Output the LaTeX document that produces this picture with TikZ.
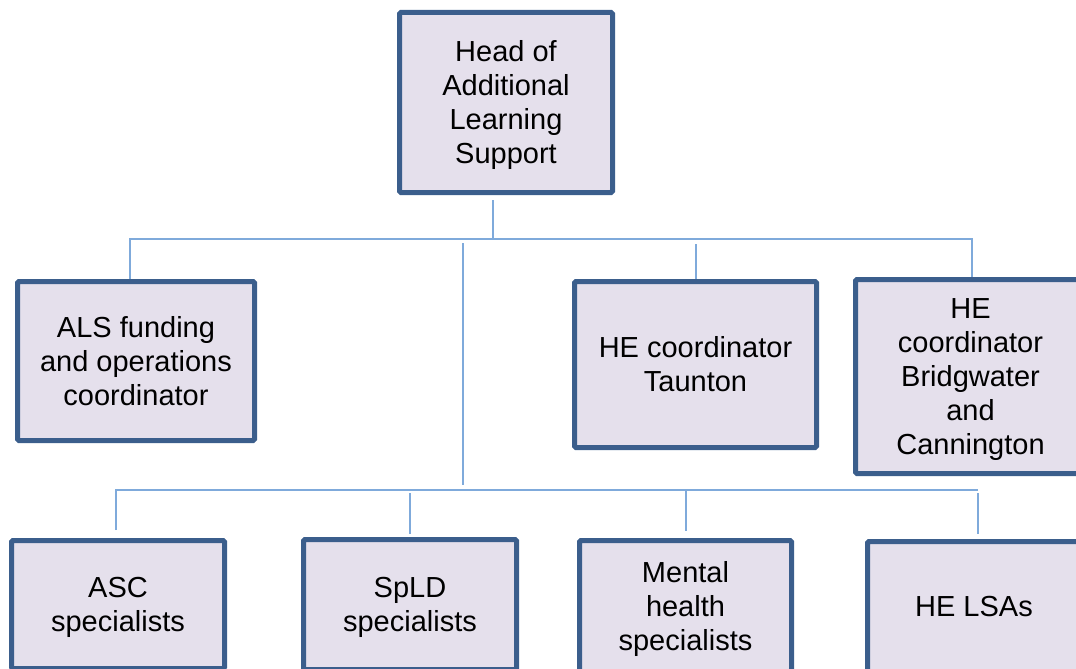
\documentclass[tikz,border=0pt]{standalone}
\usepackage{fontspec}
\setmainfont{Liberation Sans}
\definecolor{boxfill}{HTML}{E5E0EC}
\definecolor{boxblue}{HTML}{3B5E8C}
\definecolor{connblue}{HTML}{7FAADB}
\newcommand\ls{\rule[-6.1pt]{0pt}{32.3pt}}
\begin{document}
\begin{tikzpicture}[x=1pt,y=-1pt,
  box/.style={draw=boxblue, line width=5pt, fill=boxfill, rounded corners=1.5pt,
    align=center, inner sep=0pt, text=black,
    font=\fontsize{29}{34}\selectfont},
  conn/.style={draw=connblue, line width=1.3pt}]
\useasboundingbox (0,0) rectangle (1076,669);
\clip (0,0) rectangle (1076,669);
% boxes
\node[box, minimum width=213pt, minimum height=180pt] (head) at (506,102.5) {\ls Head of\\Additional\\Learning\\Support\ls};
\node[box, minimum width=237pt, minimum height=159pt] (als) at (136,361) {\ls ALS funding\\and operations\\coordinator\ls};
\node[box, minimum width=242pt, minimum height=166pt] (tau) at (695.5,364.5) {\ls HE coordinator\\Taunton\ls};
\node[box, minimum width=230pt, minimum height=194pt] (bri) at (970.5,376.5) {\ls HE\\coordinator\\Bridgwater\\and\\Cannington\ls};
\node[box, minimum width=213pt, minimum height=128pt] (asc) at (118,604.5) {\ls ASC\\specialists\ls};
\node[box, minimum width=213pt, minimum height=130pt] (spl) at (410,604.5) {\ls SpLD\\specialists\ls};
\node[box, minimum width=212pt, minimum height=131pt] (men) at (685.5,606) {\ls Mental\\health\\specialists\ls};
\node[box, minimum width=213pt, minimum height=130pt] (lsa) at (974,606.5) {\ls HE LSAs};
% junction coordinates
\coordinate (hj) at (493,239);
\coordinate (bl1) at (130,239);
\coordinate (br1) at (972,239);
\coordinate (tj) at (696,244);
\coordinate (mtop) at (463,243);
\coordinate (mbot) at (463,485);
\coordinate (bl2) at (116,490);
\coordinate (br2) at (978,490);
\coordinate (sj) at (410,493);
\coordinate (mj) at (686,490);
\coordinate (lj) at (978,493);
% connectors
\draw[conn] ([yshift=-5pt]hj |- head.south) -- (hj);
\draw[conn] (bl1 |- als.north) -- (bl1) -- (br1) -- (br1 |- bri.north);
\draw[conn] (tj) -- (tj |- tau.north);
\draw[conn] (mtop) -- (mbot);
\draw[conn] ([yshift=8pt]bl2 |- asc.north) -- (bl2) -- (br2);
\draw[conn] (sj) -- ([yshift=3pt]sj |- spl.north);
\draw[conn] (mj) -- ([yshift=7pt]mj |- men.north);
\draw[conn] (lj) -- ([yshift=5pt]lj |- lsa.north);
\end{tikzpicture}
\end{document}
